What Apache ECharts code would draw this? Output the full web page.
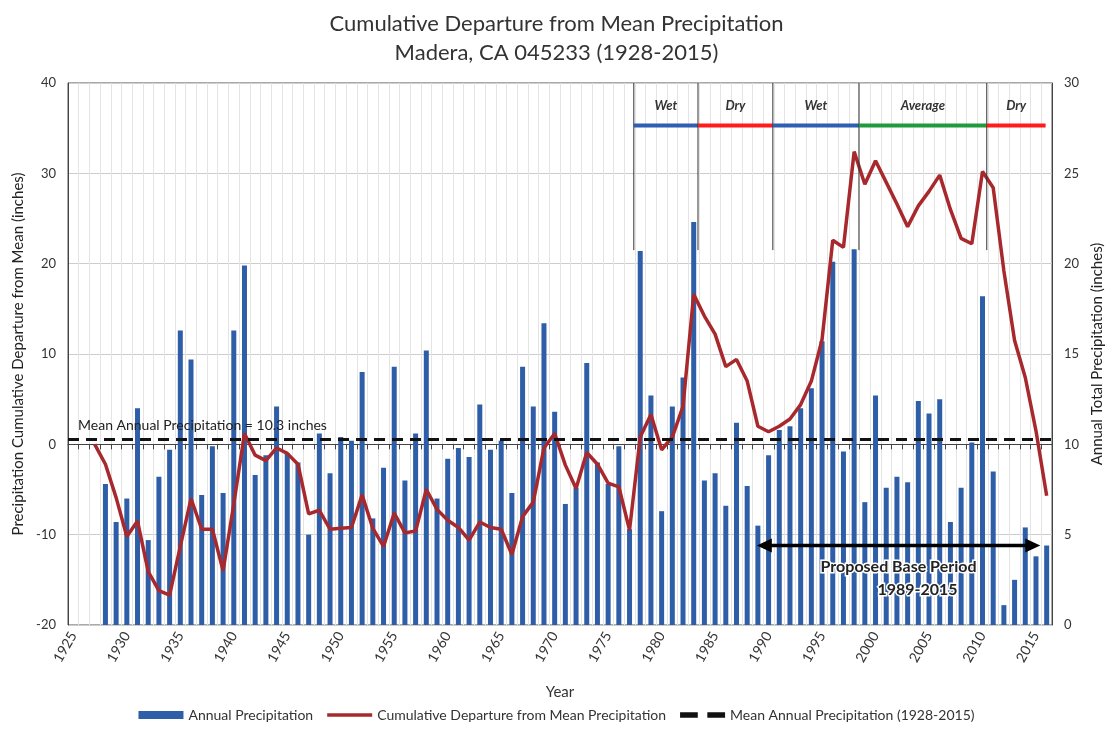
<!DOCTYPE html>
<html>
<head>
<meta charset="utf-8">
<title>Cumulative Departure from Mean Precipitation</title>
<script src="https://cdn.jsdelivr.net/npm/echarts@6/dist/echarts.min.js"></script>
<style>
  html, body { margin: 0; padding: 0; background: #fff; }
  #main { width: 1113px; height: 732px; }
</style>
</head>
<body>
<div id="main"></div>
<script>
// category years on the x axis (1925 - 2016)
var years = [];
for (var y = 1925; y <= 2016; y++) years.push(String(y));

// annual total precipitation (inches), 1928 - 2016
var annualPrecip = [
  7.8, 5.7, 7.0, 12.0, 4.7, 8.2, 9.7, 16.3, 14.7, 7.2,
  9.9, 7.3, 16.3, 19.9, 8.3, 9.4, 12.1, 9.5, 9.0, 5.0,
  10.6, 8.4, 10.4, 10.2, 14.0, 5.9, 8.7, 14.3, 8.0, 10.6,
  15.2, 7.0, 9.2, 9.8, 9.3, 12.2, 9.7, 10.2, 7.3, 14.3,
  12.1, 16.7, 11.8, 6.7, 7.6, 14.5, 9.0, 7.8, 9.9, 5.3,
  20.7, 12.7, 6.3, 12.1, 13.7, 22.3, 8.0, 8.4, 6.6, 11.2,
  7.7, 5.5, 9.4, 10.8, 11.0, 12.0, 13.1, 15.7, 20.1, 9.6,
  20.8, 6.8, 12.7, 7.6, 8.2, 7.9, 12.4, 11.7, 12.5, 5.7,
  7.6, 10.1, 18.2, 8.5, 1.1, 2.5, 5.4, 3.8, 4.4
];

// cumulative departure from mean (inches), 1927 - 2016
var cumDeparture = [
  0, -2.2, -5.9, -10.2, -8.5, -14.1, -16.2, -16.7, -11.3, -6.0,
  -9.4, -9.4, -14.0, -6.6, 1.2, -1.2, -1.8, -0.4, -1.0, -2.2,
  -7.7, -7.3, -9.4, -9.3, -9.2, -5.6, -9.3, -11.3, -7.6, -9.8,
  -9.6, -5.0, -7.2, -8.4, -9.2, -10.6, -8.6, -9.2, -9.4, -12.2,
  -8.0, -6.4, -0.4, 1.2, -2.3, -4.9, -0.9, -2.2, -4.3, -4.7,
  -9.5, 0.8, 3.3, -0.6, 0.8, 4.2, 16.6, 14.2, 12.2, 8.6,
  9.4, 7.0, 2.0, 1.4, 2.0, 2.8, 4.4, 7.0, 11.6, 22.6,
  21.8, 32.4, 28.8, 31.4, 29.0, 26.6, 24.1, 26.4, 28.0, 29.8,
  26.0, 22.8, 22.2, 30.2, 28.4, 19.2, 11.5, 7.4, 1.5, -5.7
];

var meanPrecip = 10.3;

// wet / dry periods
var periodNames = ['Wet', 'Dry', 'Wet', 'Average', 'Dry'];
var periodStart = [1977.4, 1983.4, 1990.4, 1998.45, 2010.4];
var periodEnd = [1983.4, 1990.4, 1998.45, 2010.4, 2015.9];

// proposed base period arrow
var baseStart = 1988.9;
var baseEnd = 2015.4;

var periodColors = { 'Wet': '#2f5fb0', 'Dry': '#ff1c1c', 'Average': '#1f9a3c' };

var chart = echarts.init(document.getElementById('main'));

var barData = [null, null, null].concat(annualPrecip);
var lineData = [null, null].concat(cumDeparture);

var periodData = periodNames.map(function (n, i) {
  return [periodStart[i], periodEnd[i], 35.3];
});

function renderPeriod(params, api) {
  var name = periodNames[params.dataIndex];
  var s = api.coord([api.value(0), 35.3]);
  var e = api.coord([api.value(1), 35.3]);
  var top = api.coord([api.value(0), 40]);
  var bot = api.coord([api.value(0), 21.5]);
  var txt = api.coord([(api.value(0) + api.value(1)) / 2, 37.5]);
  return {
    type: 'group',
    children: [
      { type: 'line', shape: { x1: top[0], y1: top[1], x2: bot[0], y2: bot[1] },
        style: { stroke: '#333', lineWidth: 1 } },
      { type: 'line', shape: { x1: s[0], y1: s[1], x2: e[0], y2: e[1] },
        style: { stroke: periodColors[name], lineWidth: 4 } },
      { type: 'text', x: txt[0], y: txt[1],
        style: { text: name, align: 'center', verticalAlign: 'middle',
          font: 'italic bold 13px Lato', fill: '#333' } }
    ]
  };
}

function renderArrow(params, api) {
  var a = api.coord([api.value(0), api.value(2)]);
  var b = api.coord([api.value(1), api.value(2)]);
  var mid = (a[0] + b[0]) / 2;
  return {
    type: 'group',
    children: [
      { type: 'line', shape: { x1: a[0] + 8, y1: a[1], x2: b[0] - 8, y2: b[1] },
        style: { stroke: '#000', lineWidth: 3.5 } },
      { type: 'polygon', shape: { points: [[a[0], a[1]], [a[0] + 15, a[1] - 7], [a[0] + 15, a[1] + 7]] },
        style: { fill: '#000' } },
      { type: 'polygon', shape: { points: [[b[0], b[1]], [b[0] - 15, b[1] - 7], [b[0] - 15, b[1] + 7]] },
        style: { fill: '#000' } },
      { type: 'text', x: mid, y: a[1] + 21,
        style: { text: 'Proposed Base Period', align: 'center', verticalAlign: 'middle',
          font: 'bold 16px Lato', fill: '#222', stroke: '#fff', lineWidth: 3 } },
      { type: 'text', x: mid + 19, y: a[1] + 44,
        style: { text: '1989-2015', align: 'center', verticalAlign: 'middle',
          font: 'bold 16px Lato', fill: '#222', stroke: '#fff', lineWidth: 3 } }
    ]
  };
}

var option = {
  backgroundColor: '#ffffff',
  textStyle: { fontFamily: 'Lato' },
  title: {
    text: 'Cumulative Departure from Mean Precipitation\nMadera, CA 045233 (1928-2015)',
    left: 'center',
    top: 4,
    textStyle: { fontSize: 22, fontWeight: 'normal', color: '#333', lineHeight: 29, fontFamily: 'Lato' }
  },
  legend: {
    bottom: 5,
    left: 'center',
    itemWidth: 45,
    itemHeight: 8,
    itemGap: 14,
    textStyle: { fontSize: 14, color: '#333' },
    data: [
      { name: 'Annual Precipitation', icon: 'rect' },
      { name: 'Cumulative Departure from Mean Precipitation', icon: 'path://M0,0H45V3.5H0Z' },
      { name: 'Mean Annual Precipitation (1928-2015)', icon: 'path://M0,0H13V4H0ZM20,0H33V4H20Z' }
    ]
  },
  grid: {
    left: 68, right: 55, top: 83, bottom: 107,
    show: true, borderColor: '#555', borderWidth: 1
  },
  xAxis: [{
    type: 'category',
    data: years,
    name: 'Year',
    nameLocation: 'middle',
    nameGap: 60,
    nameTextStyle: { fontSize: 15, color: '#333' },
    axisLine: { lineStyle: { color: '#444' } },
    axisTick: { show: true, interval: 0, length: 5, lineStyle: { color: '#444' } },
    axisLabel: {
      rotate: 60, fontSize: 14, color: '#333', margin: 8,
      interval: function (idx) { return idx % 5 === 0; }
    },
    splitLine: { show: true, interval: 0, lineStyle: { color: '#e4e4e4' } }
  }, {
    type: 'value',
    min: 1924.5,
    max: 2016.5,
    show: false
  }],
  yAxis: [{
    type: 'value',
    min: -20, max: 40, interval: 10,
    name: 'Precipitation Cumulative Departure from Mean (inches)',
    nameLocation: 'middle',
    nameGap: 40,
    nameTextStyle: { fontSize: 15, color: '#222' },
    axisLine: { show: true, lineStyle: { color: '#444' } },
    axisTick: { show: false },
    axisLabel: { fontSize: 13, color: '#333', margin: 12 },
    splitLine: { lineStyle: { color: '#cdcdcd' } }
  }, {
    type: 'value',
    min: 0, max: 30, interval: 5,
    name: 'Annual Total Precipitation (inches)',
    nameLocation: 'middle',
    nameGap: 36,
    nameTextStyle: { fontSize: 15, color: '#222' },
    axisLine: { show: true, lineStyle: { color: '#444' } },
    axisTick: { show: false },
    axisLabel: { fontSize: 13, color: '#333', margin: 12 },
    splitLine: { show: false }
  }],
  series: [{
    name: 'Annual Precipitation',
    type: 'bar',
    yAxisIndex: 1,
    barWidth: 5,
    itemStyle: { color: '#2e5ea8' },
    data: barData
  }, {
    name: 'Cumulative Departure from Mean Precipitation',
    type: 'line',
    yAxisIndex: 0,
    symbol: 'none',
    color: '#a8292d',
    lineStyle: { color: '#a8292d', width: 3.5 },
    data: lineData,
    z: 4
  }, {
    name: 'Mean Annual Precipitation (1928-2015)',
    type: 'line',
    yAxisIndex: 1,
    symbol: 'none',
    color: '#111',
    lineStyle: { color: '#111', width: 3, type: [11, 7] },
    data: [],
    markLine: {
      silent: true,
      symbol: ['none', 'none'],
      lineStyle: { color: '#111', width: 3, type: [11, 7] },
      label: {
        show: true,
        position: 'insideStartTop',
        formatter: 'Mean Annual Precipitation = 10.3 inches',
        fontSize: 14,
        color: '#222',
        distance: [10, 6]
      },
      data: [{ yAxis: meanPrecip }]
    },
    z: 5
  }, {
    name: 'periods',
    type: 'custom',
    xAxisIndex: 1,
    yAxisIndex: 0,
    silent: true,
    renderItem: renderPeriod,
    encode: { x: [0, 1], y: 2 },
    data: periodData,
    z: 6
  }, {
    name: 'base period',
    type: 'custom',
    xAxisIndex: 1,
    yAxisIndex: 0,
    silent: true,
    renderItem: renderArrow,
    encode: { x: [0, 1], y: 2 },
    data: [[baseStart, baseEnd, -11.2]],
    z: 6
  }]
};

chart.setOption(option, true);
</script>
</body>
</html>
